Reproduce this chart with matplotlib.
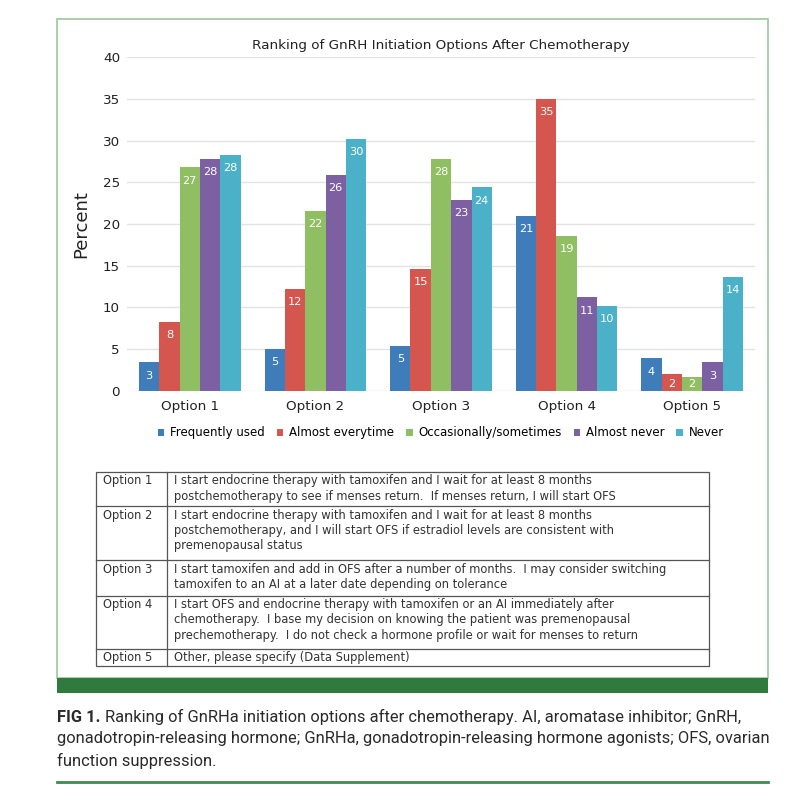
import matplotlib.pyplot as plt
from matplotlib.patches import Rectangle

# --- data ---
options = ["Option 1", "Option 2", "Option 3", "Option 4", "Option 5"]
series = ["Frequently used", "Almost everytime", "Occasionally/sometimes",
          "Almost never", "Never"]
frequently_used = [3.4, 5.0, 5.4, 21.0, 3.9]
almost_everytime = [8.3, 12.2, 14.6, 35.0, 2.0]
occasionally = [26.8, 21.6, 27.8, 18.6, 1.6]
almost_never = [27.8, 25.9, 22.9, 11.2, 3.4]
never = [28.3, 30.2, 24.4, 10.2, 13.7]
colors = ["#3e7cba", "#d5564e", "#8fbe63", "#7c60a2", "#4bb1c8"]

option_text = [
    ["I start endocrine therapy with tamoxifen and I wait for at least 8 months",
     "postchemotherapy to see if menses return.  If menses return, I will start OFS"],
    ["I start endocrine therapy with tamoxifen and I wait for at least 8 months",
     "postchemotherapy, and I will start OFS if estradiol levels are consistent with",
     "premenopausal status"],
    ["I start tamoxifen and add in OFS after a number of months.  I may consider switching",
     "tamoxifen to an AI at a later date depending on tolerance"],
    ["I start OFS and endocrine therapy with tamoxifen or an AI immediately after",
     "chemotherapy.  I base my decision on knowing the patient was premenopausal",
     "prechemotherapy.  I do not check a hormone profile or wait for menses to return"],
    ["Other, please specify (Data Supplement)"],
]
caption_lines = [
    "Ranking of GnRHa initiation options after chemotherapy. AI, aromatase inhibitor; GnRH,",
    "gonadotropin-releasing hormone; GnRHa, gonadotropin-releasing hormone agonists; OFS, ovarian",
    "function suppression.",
]

values = [frequently_used, almost_everytime, occasionally, almost_never, never]

W = H = 800
fig = plt.figure(figsize=(8, 8), dpi=100)
fig.patch.set_facecolor("white")

# background layer in pixel coordinates for frame, table, caption
bg = fig.add_axes([0, 0, 1, 1])
bg.set_xlim(0, W)
bg.set_ylim(H, 0)
bg.axis("off")

bg.add_patch(Rectangle((57, 19), 711, 659, fill=False, ec="#9cc79c", lw=1.2))
bg.add_patch(Rectangle((57, 678), 711, 14.5, color="#2f7a3d", lw=0))
bg.plot([57, 768], [782, 782], color="#3f8a4c", lw=2)


def px_axes(x0, y0, x1, y1):
    return fig.add_axes([x0 / W, 1 - y1 / H, (x1 - x0) / W, (y1 - y0) / H])


# chart
ax = px_axes(127, 57.3, 755, 390.7)
n = len(series)
bw = 0.162
lab_off = 1.6   # label centre below the bar top, in data units
lab_min = 0.85  # keep labels of short bars above the axis
for i, (name, vals, c) in enumerate(zip(series, values, colors)):
    xs = [k + (i - (n - 1) / 2) * bw for k in range(len(options))]
    ax.bar(xs, vals, width=bw, color=c, label=name, zorder=3)
    for x, v in zip(xs, vals):
        ax.text(x, max(v - lab_off, lab_min), f"{v:.0f}", ha="center",
                va="center", color="white", fontsize=8.2, zorder=4)

ax.set_xlim(-0.5, len(options) - 0.5)
ax.set_ylim(0, 40)
ax.set_yticks(range(0, 41, 5))
ax.set_xticks(range(len(options)))
ax.set_xticklabels(options)
ax.yaxis.grid(True, color="#e2e2e2", lw=1, zorder=0)
ax.set_axisbelow(True)
for s in ax.spines.values():
    s.set_visible(False)
ax.tick_params(length=0, labelsize=9.7, colors="#222222", pad=5)
ax.tick_params(axis="x", pad=7)
ax.set_ylabel("Percent", fontsize=13, labelpad=9, color="#222222")
ax.set_title("Ranking of GnRH Initiation Options After Chemotherapy",
             fontsize=9.7, color="#222222", pad=6)
ax.legend(loc="upper center", bbox_to_anchor=(0.5, -0.075), ncol=5,
          frameon=False, fontsize=8.5, handlelength=0.55, handleheight=0.55,
          handletextpad=0.5, columnspacing=1.0)

# option table
tx0, tdiv, tx1 = 96, 167, 709
row_edges = [471.7, 506, 560, 595.5, 648.5, 666]
tfont = dict(fontsize=8.3, color="#333333", va="center")
bg.add_patch(Rectangle((tx0, row_edges[0]), tx1 - tx0,
                       row_edges[-1] - row_edges[0], fill=False,
                       ec="#555555", lw=0.9))
bg.plot([tdiv, tdiv], [row_edges[0], row_edges[-1]], color="#555555", lw=0.9)
for y in row_edges[1:-1]:
    bg.plot([tx0, tx1], [y, y], color="#555555", lw=0.9)
for k, (opt, lines) in enumerate(zip(options, option_text)):
    top = row_edges[k] + 9
    bg.text(tx0 + 7, top, opt, **tfont)
    for j, line in enumerate(lines):
        bg.text(tdiv + 7, top + j * 15.5, line, **tfont)

# caption, sized so the long line spans the frame width
cx0, cx1 = 57, 768
cfont = dict(color="#2a2a2a", family="Roboto", va="center")
rend = fig.canvas.get_renderer()
probe = bg.text(cx0, 739, caption_lines[1], fontsize=11, **cfont)
csize = 11 * (cx1 - cx0) / probe.get_window_extent(rend).width
probe.set_fontsize(csize)
fig_lbl = bg.text(cx0, 717, "FIG 1.", fontsize=csize, fontweight="bold",
                  **cfont)
lbl_w = fig_lbl.get_window_extent(rend).width
bg.text(cx0 + lbl_w + 5, 717, caption_lines[0], fontsize=csize, **cfont)
bg.text(cx0, 761, caption_lines[2], fontsize=csize, **cfont)

fig.savefig("out.png", dpi=100)
